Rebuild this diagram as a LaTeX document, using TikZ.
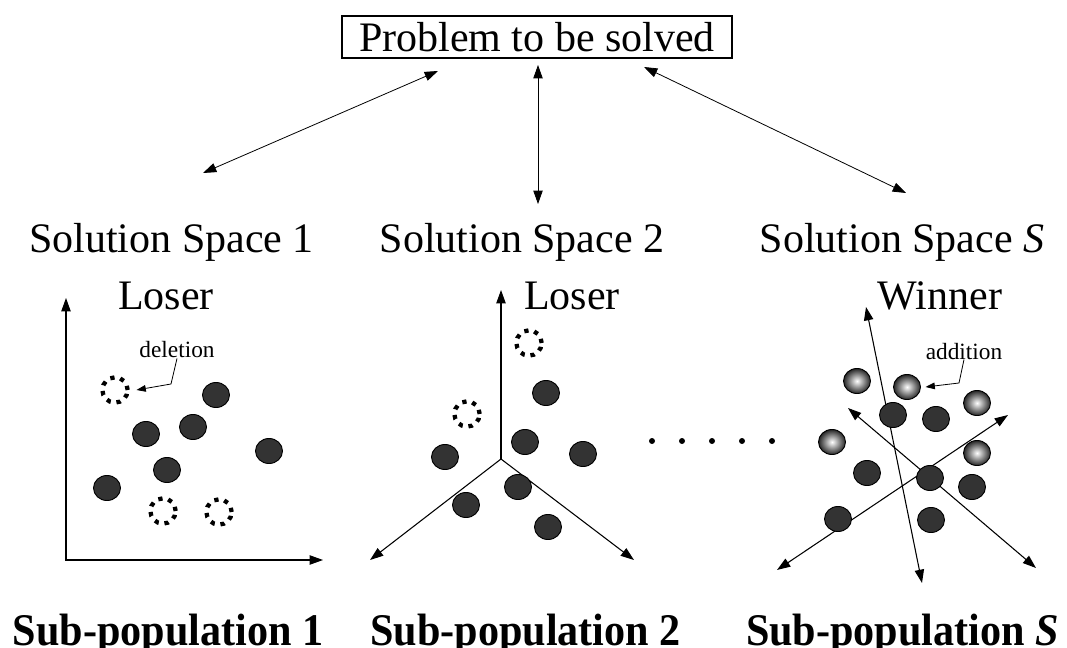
\documentclass[tikz,border=0pt]{standalone}
\usepackage{fontspec}
\setmainfont{Liberation Serif}
\usetikzlibrary{arrows.meta,shapes.geometric}

\tikzset{
  big/.style={font=\fontsize{31.5}{36}\selectfont, inner sep=0pt, anchor=base},
  subpop/.style={font=\fontsize{34}{38}\selectfont\bfseries, inner sep=0pt, anchor=base},
  small/.style={font=\fontsize{17.5}{20}\selectfont, inner sep=0pt, anchor=base},
  bigtip/.tip={Triangle[length=10pt,width=7pt]},
  littletip/.tip={Triangle[length=7pt,width=5pt]},
  link/.style={bigtip-bigtip, line width=0.6pt},
  dblaxis/.style={bigtip-bigtip, line width=0.8pt},
  oneaxis/.style={-bigtip, line width=0.8pt},
  pointer/.style={-littletip, line width=0.6pt},
  member/.style={ellipse, draw=black, line width=0.7pt, fill=black!80,
    minimum width=20.25pt, minimum height=18.75pt, inner sep=0pt},
  newmember/.style={ellipse, draw=black, line width=0.7pt, shading=radial,
    inner color=white, outer color=black!85,
    minimum width=20.25pt, minimum height=18.75pt, inner sep=0pt},
  removed/.style={circle, draw=black, line width=3.2pt,
    dash pattern=on 3.2pt off 4.4pt, minimum size=19pt, inner sep=0pt},
  ellip/.style={circle, fill=black, minimum size=4.5pt, inner sep=0pt},
}

\begin{document}
\begin{tikzpicture}[x=0.75pt, y=-0.75pt]
\useasboundingbox (0,0) rectangle (1067,648);

% problem box and the three solution-space headings
\node[draw, line width=0.9pt, minimum width=292.5pt, minimum height=31.5pt,
      inner sep=0pt, text height=22.5pt, text depth=0pt,
      font=\fontsize{31.5}{36}\selectfont] (prob) at (537,37) {Problem to be solved};

\node[big] (ss1) at (171.5,253) {Solution Space 1};
\node[big] (ss2) at (522,253) {Solution Space 2};
\node[big] (ssS) at (902,253) {Solution Space \textit{S}};

\node[big] (lose1) at (166,310) {Loser};
\node[big] (lose2) at (572,310) {Loser};
\node[big] (win)   at (940,310) {Winner};

\node[subpop] (sp1) at (168,645) {\scalebox{0.93}[1]{Sub-population 1}};
\node[subpop] (sp2) at (525.5,645) {\scalebox{0.93}[1]{Sub-population 2}};
\node[subpop] (spS) at (902.5,645) {\scalebox{0.93}[1]{Sub-population \textit{S}}};

% links between the problem and each solution space
\coordinate (l1a) at (438,71);  \coordinate (l1b) at (203,173);
\coordinate (l2a) at (538,65);  \coordinate (l2b) at (538,204);
\coordinate (l3a) at (644,67);  \coordinate (l3b) at (906,193);
\draw[link] (l1a) -- (l1b);
\draw[link] (l2a) -- (l2b);
\draw[link] (l3a) -- (l3b);

% ---- sub-population 1: 2-D axes
\coordinate (o1) at (66,560);
\coordinate (y1) at (66,298);
\coordinate (x1) at (323,560);
\draw[dblaxis] (y1) -- (o1) -- (x1);

\node[removed] (r11) at (115,390) {};
\node[removed] (r12) at (163,511) {};
\node[removed] (r13) at (219,512) {};

\node[member] at (216,395) {};
\node[member] at (146,434) {};
\node[member] at (193,427) {};
\node[member] at (269,451) {};
\node[member] at (167,470) {};
\node[member] at (107,488) {};

\node[small] (del) at (177,358) {deletion};
\coordinate (delbend) at (171,384);
\draw[pointer] (del.south) -- (delbend) -- ([xshift=5pt]r11.east);

% ---- sub-population 2: 3-D axes
\coordinate (o2) at (501,459);
\coordinate (a2up) at (501,290);
\coordinate (a2l) at (370,560);
\coordinate (a2r) at (634,560);
\draw[oneaxis] (o2) -- (a2up);
\draw[oneaxis] (o2) -- (a2l);
\draw[oneaxis] (o2) -- (a2r);

\node[removed] (r21) at (529,343) {};
\node[removed] (r22) at (467,414) {};

\node[member] at (546,393) {};
\node[member] at (525,442) {};
\node[member] at (445,457) {};
\node[member] at (583,454) {};
\node[member] at (518,487) {};
\node[member] at (466,505) {};
\node[member] at (548,527) {};

% ellipsis between the sub-populations
\foreach \i/\xx in {1/652,2/682,3/712,4/742,5/772}
  \node[ellip] (dot\i) at (\xx,441) {};

% ---- sub-population S: many axes
\coordinate (p1a) at (866,307); \coordinate (p1b) at (922,583);
\coordinate (p2a) at (848,408); \coordinate (p2b) at (1036,568);
\coordinate (p3a) at (777,570); \coordinate (p3b) at (1008,415);
\draw[dblaxis] (p1a) -- (p1b);
\draw[dblaxis] (p2a) -- (p2b);
\draw[dblaxis] (p3a) -- (p3b);

\node[newmember] (n1) at (857,381) {};
\node[newmember] (n2) at (907,387) {};
\node[newmember] (n3) at (977,403) {};
\node[newmember] (n4) at (832,442) {};
\node[newmember] (n5) at (977,453) {};

\node[member] at (893,415) {};
\node[member] at (936,419) {};
\node[member] at (867,473) {};
\node[member] at (930,478) {};
\node[member] at (972,487) {};
\node[member] at (838,519) {};
\node[member] at (931,520) {};

\node[small] (add) at (964,359) {addition};
\coordinate (addbend) at (959,383);
\draw[pointer] (add.south) -- (addbend) -- ([xshift=3.4pt]n2.east);

\end{tikzpicture}
\end{document}
